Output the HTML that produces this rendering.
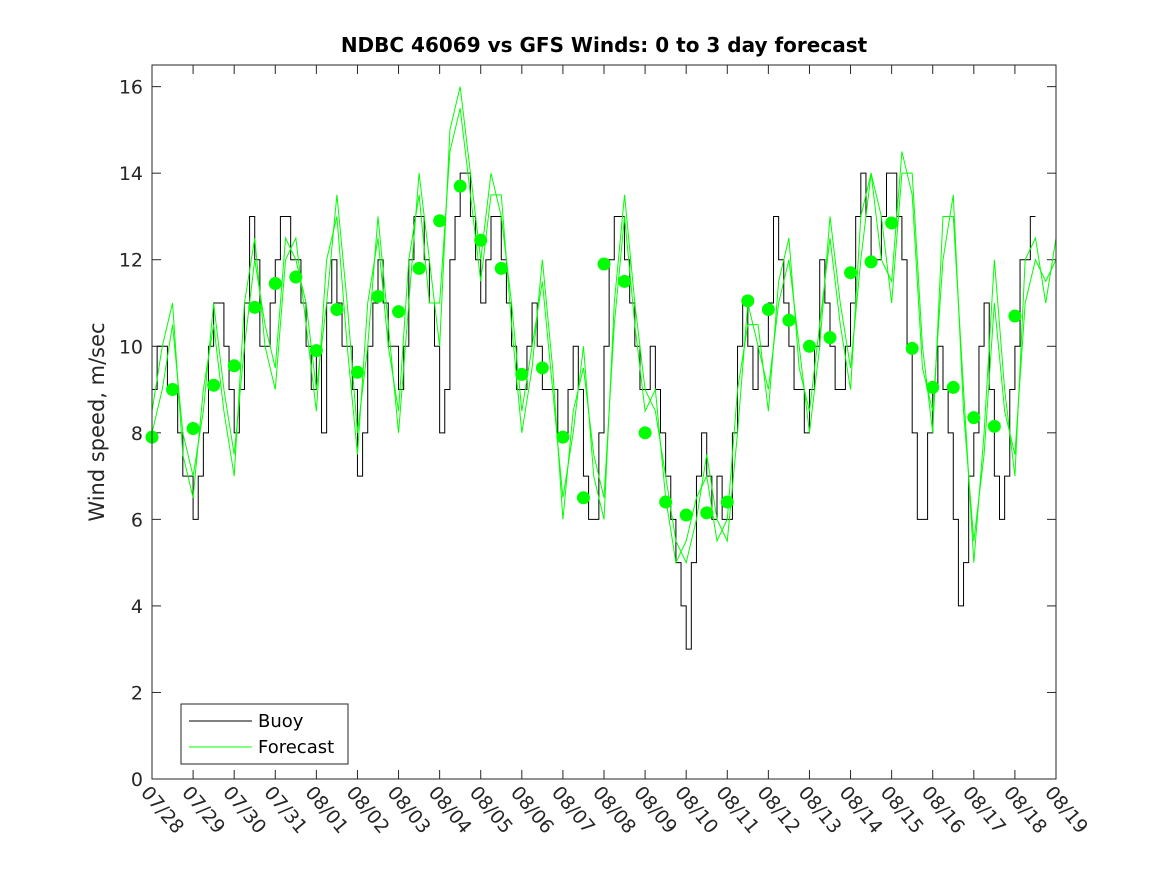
<!DOCTYPE html>
<html><head><meta charset="utf-8"><style>
body{margin:0;background:#fff}
svg text{font-family:"DejaVu Sans","Liberation Sans",sans-serif;fill:#262626}
</style></head><body>
<svg id="chart" width="1167" height="875" xmlns="http://www.w3.org/2000/svg">
<rect width="1167" height="875" fill="#fff"/>
<text x="604" y="52" text-anchor="middle" font-size="20" font-weight="bold" style="fill:#000">NDBC 46069 vs GFS Winds: 0 to 3 day forecast</text>
<text transform="translate(104,422) rotate(-90)" text-anchor="middle" font-size="21">Wind speed, m/sec</text>
<g id="axes"></g>
<g id="series"></g>
<rect x="152" y="65" width="904" height="714" fill="none" stroke="#262626" stroke-width="1"/>
<g>
<rect x="181" y="704" width="167" height="60" fill="#fff" stroke="#262626"/>
<line x1="189" y1="721" x2="252" y2="721" stroke="#000"/>
<text x="258" y="727" font-size="18" style="fill:#000">Buoy</text>
<line x1="189" y1="747" x2="252" y2="747" stroke="#00ff00"/>
<text x="258" y="753" font-size="18" style="fill:#000">Forecast</text>
</g>
</svg>
<script>
const xTickLabels=["07/28","07/29","07/30","07/31","08/01","08/02","08/03","08/04","08/05","08/06","08/07","08/08","08/09","08/10","08/11","08/12","08/13","08/14","08/15","08/16","08/17","08/18","08/19"];
const yTicks=[0,2,4,6,8,10,12,14,16];
// buoy: 3-hourly from 07/28 00Z
const buoy=[9,10,10,9,9,8,7,7, 6,7,8,10,11,11,10,9, 8,9,11,13,12,10,10,11, 12,13,13,12,12,11,10,9,
10,8,11,12,11,10,10,9, 7,8,10,11,12,11,10,10, 9,10,12,13,13,12,11,10, 8,9,12,13,14,14,13,12,
11,12,13,13,12,11,10,9, 9,10,11,10,9,9,9,8, 8,9,10,9,7,6,6,8, 10,12,13,13,12,11,10,9,
9,10,9,8,7,6,5,4, 3,5,7,8,7,6,7,6, 6,8,10,11,10,9,10,10, 11,13,12,11,10,9,9,8,
9,10,12,11,10,9,9,10, 11,13,14,13,12,12,13,14, 14,13,12,10,8,6,6,8, 9,10,9,8,6,4,5,7,
8,10,11,9,7,6,7,9, 10,12,12,13];
// forecast runs: 6-hourly from 07/28 00Z
const forecastA=[8,9,10.5,8, 7,8.5,11,9, 7.5,10,12,10.5, 9.5,12.5,12,11, 9,11,13.5,11, 8,10,13,10.5,
8,11,14,12, 10,15,16,14, 12,14,13,11, 8.5,10,11.5,9, 6.5,8,10,7, 6,11,13.5,11, 9,8.5,7,5.5,
5,6,7.5,6, 5.5,8,11,10, 9,11,12,10, 8,10,13,11, 9.5,12,14,13, 11,14,14,10, 8,13,13,9,
5,8,12,9, 7,12,12.5,11, 12.5];
const forecastB=[8.5,10,11,7.5, 6.5,9,10.5,8.5, 7,11,12.5,10, 9,12,12.5,10.5, 8.5,12,13,10, 7.5,11,12.5,10,
8.5,12,13.5,11, 11,14.5,15.5,13.5, 11.5,13.5,13.5,10.5, 8,9.5,12,9.5, 6,8.5,9.5,7.5, 6.5,10.5,13,10.5, 8.5,9,6.5,5,
5.5,6.5,7,5.5, 6,9,10.5,10.5, 8.5,11.5,12.5,9.5, 8.5,10.5,12.5,10.5, 9,13,14,12, 11.5,14.5,13.5,9.5, 8.5,12,13.5,8.5,
5.5,7.5,11,8.5, 7.5,11,12,11.5, 12];
const dotValues=[7.9,9.0,8.1,9.1,9.55,10.9,11.45,11.6,9.9,10.85,9.4,11.15,10.8,11.8,12.9,13.7,12.45,11.8,9.35,9.5,7.9,6.5,11.9,11.5,8.0,6.4,6.1,6.15,6.4,11.05,10.85,10.6,10.0,10.2,11.7,11.95,12.85,9.95,9.05,9.05,8.35,8.15,10.7];

const L=152,R=1056,T=65,B=779,YMAX=16.5,DAYS=22;
const xs=d=>L+(R-L)*d/DAYS;
const ys=v=>B-(B-T)*v/YMAX;
const NS="http://www.w3.org/2000/svg";
function mk(tag,attrs,parent){const e=document.createElementNS(NS,tag);for(const k in attrs)e.setAttribute(k,attrs[k]);parent.appendChild(e);return e;}
const ax=document.getElementById('axes'),sr=document.getElementById('series');
yTicks.forEach(v=>{
  const y=ys(v);
  const t=mk('line',{x1:L,y1:y,x2:L+9,y2:y,stroke:'#262626'},ax);
  
  
  mk('line',{x1:R-9,y1:y,x2:R,y2:y,stroke:'#262626'},ax);
  const tx=mk('text',{x:L-9,y:y+7,'text-anchor':'end','font-size':19},ax);
  tx.textContent=v;
  
  
});
xTickLabels.forEach((s,i)=>{
  const x=xs(i);
  const t=mk('line',{x1:x,y1:B,x2:x,y2:B-9,stroke:'#262626'},ax);
  
  
  mk('line',{x1:x,y1:T,x2:x,y2:T+9,stroke:'#262626'},ax);
  const tx=mk('text',{transform:`translate(${x-12},${B+14}) rotate(50)`,'font-size':19},ax);
  tx.textContent=s;
  
  
});
let d='';
buoy.forEach((v,i)=>{const x0=xs(i/8),x1=xs((i+1)/8),y=ys(v);d+=(i?'L':'M')+x0+','+y+'L'+x1+','+y;});
const bp=mk('path',{d:d,fill:'none',stroke:'#000','stroke-width':1},sr);


[forecastA,forecastB].forEach((arr,k)=>{
  const p=mk('path',{d:arr.map((v,i)=>(i?'L':'M')+xs(i/4)+','+ys(v)).join(''),fill:'none',stroke:'#00ff00','stroke-width':1},sr);
  
  
});
dotValues.forEach((v,i)=>{
  const c=mk('circle',{cx:xs(i/2),cy:ys(v),r:6.5,fill:'#00ff00'},sr);
  
  
});
</script>
</body></html>
